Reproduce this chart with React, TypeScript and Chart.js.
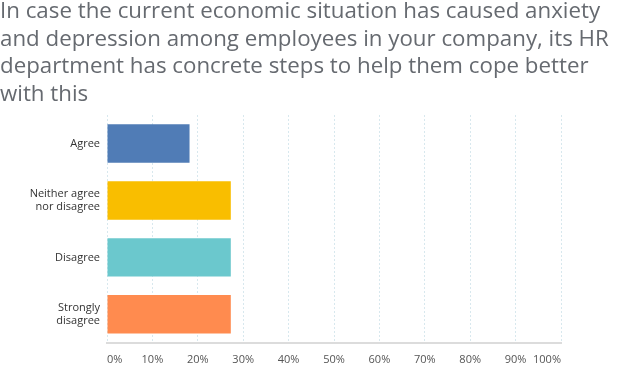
import React, { useEffect, useRef } from "react";
import { Chart, registerables } from "chart.js";

Chart.register(...registerables);

const titleLines = [
  "In case the current economic situation has caused anxiety",
  "and depression among employees in your company, its HR",
  "department has concrete steps to help them cope better",
  "with this",
];
const categories: (string | string[])[] = [
  "Agree",
  ["Neither agree", "nor disagree"],
  "Disagree",
  ["Strongly", "disagree"],
];
const values = [18.18, 27.27, 27.27, 27.27];
const barColors = ["#507cb6", "#f9be00", "#6bc8cd", "#ff8b4f"];
const xTicks = [0, 10, 20, 30, 40, 50, 60, 70, 80, 90, 100];

export default function App() {
  const ref = useRef<HTMLCanvasElement>(null);
  useEffect(() => {
    document.body.style.margin = "0";
    const chart = new Chart(ref.current!, {
      type: "bar",
      data: {
        labels: categories,
        datasets: [
          {
            data: values,
            backgroundColor: barColors,
            borderWidth: 0,
            barPercentage: 0.675,
            categoryPercentage: 1,
          },
        ],
      },
      options: {
        indexAxis: "y",
        animation: false,
        responsive: false,
        layout: { padding: { left: 0, right: 62, top: 115, bottom: 8 } },
        plugins: {
          legend: { display: false },
          tooltip: { enabled: false },
          title: { display: false },
        },
        scales: {
          x: {
            min: 0,
            max: 100,
            afterBuildTicks: (s: any) => {
              s.ticks = xTicks.map((v) => ({ value: v }));
            },
            ticks: {
              callback: (v: any) => v + "%",
              color: "#555",
              font: { family: "Open Sans", size: 11 },
              padding: 10,
              align: "inner",
              maxRotation: 0,
              autoSkip: false,
            },
            grid: { color: "#d8e8ee", drawTicks: false, lineWidth: 1 },
            border: { display: true, color: "#dcdcdc", width: 2, dash: [2, 2] },
          },
          y: {
            afterFit: (s: any) => {
              s.width = 107;
            },
            ticks: {
              color: "#333",
              font: { family: "Open Sans", size: 11 },
              padding: 7,
            },
            grid: { display: false, drawTicks: false },
            border: { display: false },
          },
        },
      },
    });
    return () => chart.destroy();
  }, []);
  return (
    <div style={{ position: "relative", width: 623, height: 384 }}>
      <canvas ref={ref} width={623} height={384} style={{ display: "block" }} />
      <div
        style={{
          position: "absolute",
          left: 0,
          top: -4,
          fontFamily: "'Open Sans', sans-serif",
          fontSize: 22.3,
          lineHeight: "27.5px",
          color: "#666a70",
          whiteSpace: "nowrap",
        }}
      >
        {titleLines.map((l, i) => (
          <div key={i}>{l}</div>
        ))}
      </div>
    </div>
  );
}
